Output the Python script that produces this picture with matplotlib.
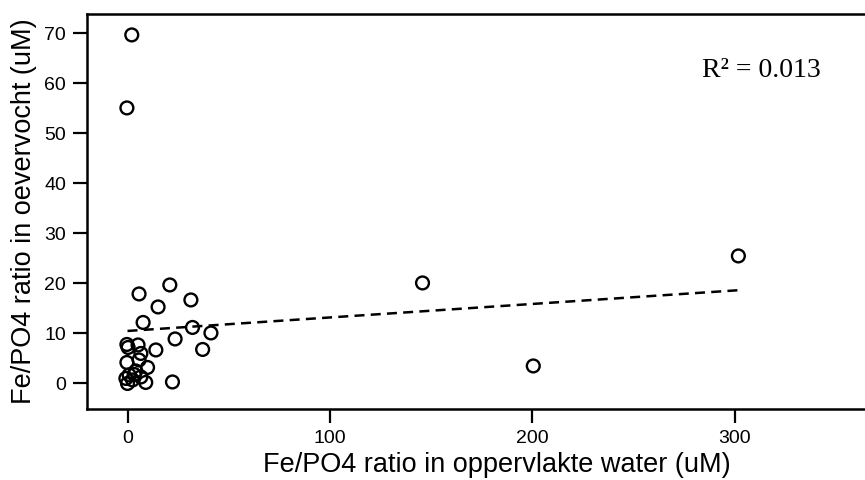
import numpy as np
import matplotlib
matplotlib.use('Agg')
import matplotlib.pyplot as plt

# values
surface_ratio = [2.1, -0.3, 301.7, 145.7, 200.4, 20.9, 5.7, 31.3, 15.1, 7.7,
                 32.1, 41.2, 23.5, 37.1, 14.0, -0.3, 5.2, 0.3, 6.6, -0.3,
                 5.7, 9.9, 4.1, 0.8, -0.8, 9.0, 0.0, 2.5, 22.2, 6.6, 3.3]
pore_ratio = [69.7, 55.1, 25.5, 20.1, 3.5, 19.7, 17.9, 16.7, 15.3, 12.2,
              11.2, 10.1, 8.9, 6.8, 6.7, 7.8, 7.7, 7.2, 6.0, 4.2,
              4.7, 3.2, 2.5, 1.7, 1.0, 0.2, 0.0, 0.7, 0.3, 1.3, 1.8]
fit_intercept = 10.5
fit_slope = 0.027
r2_label = 'R² = 0.013'

xticks = [0, 100, 200, 300]
yticks = [0, 10, 20, 30, 40, 50, 60, 70]

plt.rcParams['font.family'] = ['Liberation Sans', 'DejaVu Sans']

fig = plt.figure(figsize=(8.65, 4.8), dpi=100)
ax = fig.add_axes([0.1006, 0.148, 0.948, 0.823])

ax.scatter(surface_ratio, pore_ratio, s=85, facecolors='none', edgecolors='black', linewidths=1.7, zorder=3)

# dashed regression line
xs = np.array([min(surface_ratio) + 0.8, max(surface_ratio)])
ax.plot(xs, fit_intercept + fit_slope * xs, color='black', linestyle=(0, (4, 2.5)), linewidth=1.8)

ax.set_xlim(-20, 385)
ax.set_ylim(-5.1, 73.9)
ax.set_xticks(xticks)
ax.set_yticks(yticks)
ax.tick_params(direction='out', length=10, width=1.6, labelsize=14, colors='black', pad=5)
for sp in ax.spines.values():
    sp.set_linewidth(1.8)

ax.set_xlabel('Fe/PO4 ratio in oppervlakte water (uM)', fontsize=19.5, labelpad=4)
ax.set_ylabel('Fe/PO4 ratio in oevervocht (uM)', fontsize=19.5, labelpad=5)

ax.text(0.811, 0.84, r2_label, transform=fig.transFigure, fontsize=20,
        family=['Liberation Serif', 'DejaVu Serif'])

fig.savefig('out.png', dpi=100)
